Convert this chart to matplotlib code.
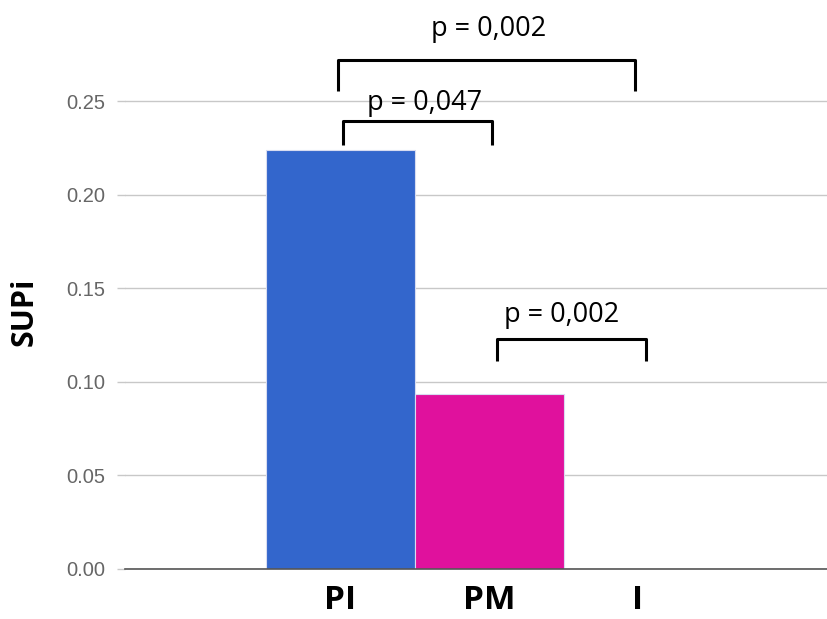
import matplotlib.pyplot as plt
import numpy as np

# Data
categories = ['PI', 'PM', 'I']
supi_values = [0.224, 0.0935, 0.0]
bar_colors = ['#3366cc', '#e0119d', '#ffffff']

# Significance brackets: (left category, right category, label)
bracket_pairs = [(0, 1, 'p = 0,047'), (0, 2, 'p = 0,002'), (1, 2, 'p = 0,002')]
# bracket geometry: x offsets, top y, leg length, text x, text baseline y
bracket_geom = [
    (0.02, 0.02, 0.2393, 0.0128, 0.565, 0.2452),
    (-0.013, -0.02, 0.2719, 0.0166, 1.00, 0.2847),
    (0.054, 0.054, 0.1229, 0.0118, 1.49, 0.1319),
]

fig = plt.figure(figsize=(8.28, 6.19), dpi=100)
ax = fig.add_axes([0.151, 0.0808, 0.849, 0.9192])

x = np.arange(len(categories))
ax.bar(x, supi_values, width=1.0, color=bar_colors, edgecolor='#d8dcf0', linewidth=0.8, zorder=3)

ax.set_xlim(-1.443, 3.275)
ax.set_ylim(0, 0.304)
ax.set_yticks([0.0, 0.05, 0.10, 0.15, 0.20, 0.25])
ax.set_yticklabels(['0.00', '0.05', '0.10', '0.15', '0.20', '0.25'])
ax.yaxis.grid(True, color='#c8c8c8', linewidth=1.0, zorder=0)
ax.set_axisbelow(True)

for s in ['top', 'right', 'left']:
    ax.spines[s].set_visible(False)
ax.spines['bottom'].set_color('#555555')
ax.spines['bottom'].set_linewidth(1.2)
ax.spines['bottom'].set_zorder(4)

ax.tick_params(axis='y', length=6, width=1.0, color='#c8c8c8', pad=8,
               labelsize=14.5, labelcolor='#666666')
for lbl in ax.get_yticklabels():
    lbl.set_fontfamily('Liberation Sans')

ax.set_xticks(x)
ax.set_xticklabels(categories, fontfamily='Open Sans', fontweight='bold', fontsize=24)
ax.tick_params(axis='x', length=0, pad=11)

ax.set_ylabel('SUPi', fontfamily='Open Sans', fontweight='bold', fontsize=22)
ax.yaxis.set_label_coords(-0.121, 0.452)

# Brackets
for (i0, i1, label), (dx0, dx1, ytop, leg, xt, yt) in zip(bracket_pairs, bracket_geom):
    xa = x[i0] + dx0
    xb = x[i1] + dx1
    ax.plot([xa, xa, xb, xb], [ytop - leg, ytop, ytop, ytop - leg],
            color='black', linewidth=2.2, solid_joinstyle='round',
            solid_capstyle='butt', zorder=5, clip_on=False)
    ax.text(xt, yt, label, ha='center', va='baseline',
            fontfamily='Open Sans', fontsize=19.5, color='black', zorder=6)

fig.savefig('out.png', dpi=100)
